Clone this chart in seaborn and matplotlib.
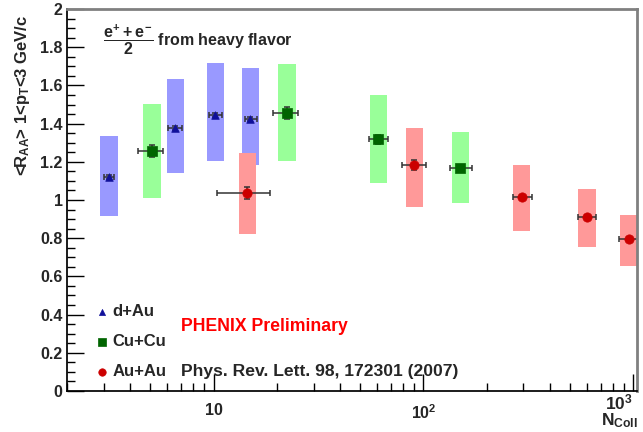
import numpy as np
import pandas as pd
import seaborn as sns
import matplotlib.pyplot as plt
from matplotlib.ticker import FixedLocator, FixedFormatter, MultipleLocator, NullFormatter

# values
dau_n = [3.18, 6.58, 10.2, 15.0]
dau_r = [1.12, 1.377, 1.445, 1.423]
dau_xlo = [3.0, 6.1, 9.56, 14.2]
dau_xhi = [3.37, 7.1, 11.0, 16.1]
dau_dy = [0.01, 0.01, 0.01, 0.01]
dau_syslo = [0.916, 1.141, 1.204, 1.183]
dau_syshi = [1.335, 1.633, 1.72, 1.69]

cucu_n = [5.1, 22.4, 61.0, 150.0]
cucu_r = [1.257, 1.455, 1.318, 1.168]
cucu_xlo = [4.37, 19.1, 55.0, 134.5]
cucu_xhi = [5.77, 25.2, 68.0, 171.0]
cucu_dy = [0.03, 0.03, 0.025, 0.01]
cucu_syslo = [1.01, 1.204, 1.09, 0.984]
cucu_syshi = [1.503, 1.71, 1.55, 1.356]

auau_n = [14.5, 90.6, 294.0, 603.0, 955.0]
auau_r = [1.037, 1.183, 1.016, 0.911, 0.796]
auau_xlo = [10.4, 79.0, 267.0, 546.0, 857.0]
auau_xhi = [18.5, 103.0, 329.0, 665.0, 1060.0]
auau_dy = [0.03, 0.025, 0.01, 0.01, 0.01]
auau_syslo = [0.822, 0.963, 0.838, 0.754, 0.654]
auau_syshi = [1.246, 1.377, 1.183, 1.058, 0.921]

sns.set_theme(style="ticks")
plt.rcParams["font.family"] = ["Liberation Sans", "DejaVu Sans"]
plt.rcParams["font.weight"] = "bold"
plt.rcParams["mathtext.fontset"] = "custom"
plt.rcParams["mathtext.rm"] = "Liberation Sans:bold"
plt.rcParams["mathtext.it"] = "Liberation Sans:bold"
plt.rcParams["mathtext.bf"] = "Liberation Sans:bold"
plt.rcParams["mathtext.sf"] = "Liberation Sans:bold"

fig = plt.figure(figsize=(6.43, 4.32), dpi=100)
ax = fig.add_axes([0.104, 0.095, 0.887, 0.884])

groups = [
    ("d+Au", dau_n, dau_r, dau_xlo, dau_xhi, dau_dy, dau_syslo, dau_syshi, "#9999ff", "#10109a", "^", 30),
    ("Cu+Cu", cucu_n, cucu_r, cucu_xlo, cucu_xhi, cucu_dy, cucu_syslo, cucu_syshi, "#99ff99", "#006400", "s", 45),
    ("Au+Au", auau_n, auau_r, auau_xlo, auau_xhi, auau_dy, auau_syslo, auau_syshi, "#ff9999", "#cc0000", "o", 45),
]

# systematic boxes
for name, n, r, xlo, xhi, dy, slo, shi, boxc, mc, mk, s in groups:
    n = np.array(n)
    left = n / 1.1
    ax.bar(left, np.array(shi) - np.array(slo), bottom=slo, width=n * 1.1 - left,
           align="edge", color=boxc, edgecolor="none", zorder=1)

# statistical error bars and markers
for name, n, r, xlo, xhi, dy, slo, shi, boxc, mc, mk, s in groups:
    n = np.array(n)
    xerr = [n - np.array(xlo), np.array(xhi) - n]
    ax.errorbar(n, r, xerr=xerr, yerr=dy, fmt="none", ecolor="#333333",
                elinewidth=1.1, capsize=2.5, capthick=1.1, zorder=2)
    df = pd.DataFrame({"ncoll": n, "raa": r})
    sns.scatterplot(data=df, x="ncoll", y="raa", marker=mk, s=s, color=mc,
                    edgecolor=mc, linewidth=0.5, label=name, ax=ax, zorder=3)

ax.set_xscale("log")
ax.set_xlim(2, 1045)
ax.set_ylim(0, 2)

ax.xaxis.set_major_locator(FixedLocator([10, 100, 1000]))
ax.xaxis.set_major_formatter(FixedFormatter(["10", "$10^2$", ""]))
minor = [m * d for d in [1, 10, 100] for m in range(2, 10)]
ax.xaxis.set_minor_locator(FixedLocator(minor))
ax.xaxis.set_minor_formatter(NullFormatter())
ax.yaxis.set_major_locator(MultipleLocator(0.2))
ax.yaxis.set_minor_locator(MultipleLocator(0.05))
ax.set_yticklabels([f"{v:g}" for v in ax.get_yticks()])

ax.tick_params(axis="both", which="major", direction="in", length=12, width=1,
               labelsize=11.5, color="black")
ax.tick_params(axis="both", which="minor", direction="in", length=6, width=1, color="black")
ax.tick_params(axis="y", which="major", pad=3)
ax.tick_params(axis="x", which="major", pad=9)
ax.tick_params(top=False, right=False, which="both")
for lab in ax.get_xticklabels() + ax.get_yticklabels():
    lab.set_fontweight("bold")

# the 10^3 label sits at the right edge, shifted in like the reference
ax.text(0.968, -0.004, "$10^3$", transform=ax.transAxes, fontsize=12.5,
        fontweight="bold", ha="center", va="top")

ax.spines["left"].set_color("black")
ax.spines["bottom"].set_color("black")
ax.spines["top"].set_color("#808080")
ax.spines["right"].set_color("#808080")
ax.spines["top"].set_linewidth(2)
ax.spines["right"].set_linewidth(2)

ax.set_ylabel("<R$_{AA}$> 1<p$_{T}$<3 GeV/c", fontsize=12, fontweight="bold")
ax.yaxis.set_label_coords(-0.062, 0.775)
ax.set_xlabel("N$_{Coll}$", fontsize=12.5, fontweight="bold")
ax.xaxis.set_label_coords(0.968, -0.054)

ax.text(0.063, 0.919, r"$\dfrac{e^{+}+e^{-}}{2}$ from heavy flavor", transform=ax.transAxes,
        fontsize=11.5, fontweight="bold", va="center", ha="left")
ax.text(0.2, 0.17, "PHENIX Preliminary", transform=ax.transAxes, color="red",
        fontsize=12.7, fontweight="bold", va="center", ha="left")
ax.text(0.2, 0.052, "Phys. Rev. Lett. 98, 172301 (2007)", transform=ax.transAxes,
        fontsize=12.6, fontweight="bold", va="center", ha="left")

leg = ax.legend(loc="lower left", bbox_to_anchor=(0.018, -0.008), frameon=False,
                handletextpad=0.0, labelspacing=0.9, prop={"weight": "bold", "size": 12},
                markerscale=0.8, handlelength=1.2)

fig.savefig("out.png", dpi=100)
